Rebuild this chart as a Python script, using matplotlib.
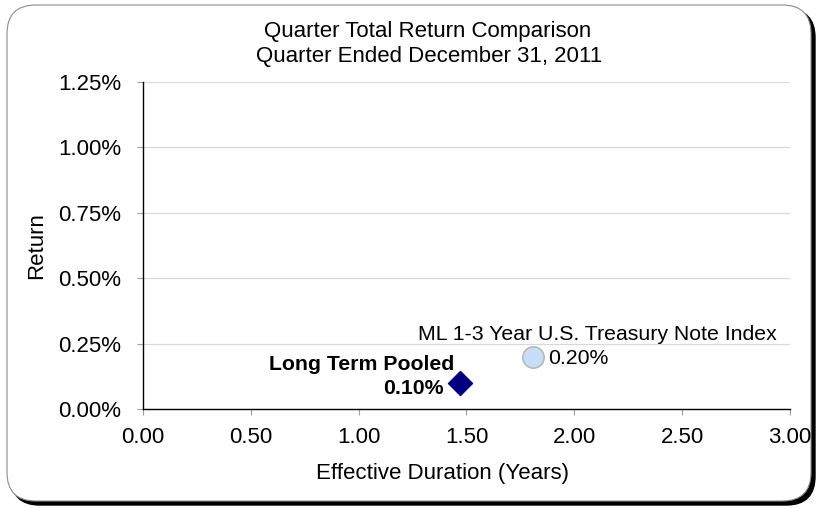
import matplotlib.pyplot as plt
from matplotlib.patches import FancyBboxPatch

plt.rcParams['font.family'] = ['Liberation Sans', 'DejaVu Sans']

# data
fund_name = "Long Term Pooled"
fund_duration = 1.47
fund_return = 0.10
index_name = "ML 1-3 Year U.S. Treasury Note Index"
index_duration = 1.81
index_return = 0.20
x_ticks = [0.0, 0.5, 1.0, 1.5, 2.0, 2.5, 3.0]
y_ticks = [0.0, 0.25, 0.5, 0.75, 1.0, 1.25]

W, H = 820, 508
PX = 0.72  # points per pixel at dpi 100
fs = 16
fs_note = 15.3

fig = plt.figure(figsize=(W / 100, H / 100), dpi=100)

# rounded frame with shadow
shadow = FancyBboxPatch((11 / W, 3 / H), 804 / W, 496 / H,
                        boxstyle="round,pad=0,rounding_size=0.035",
                        transform=fig.transFigure, facecolor='black',
                        edgecolor='black', zorder=0, mutation_aspect=W / H)
frame = FancyBboxPatch((7 / W, 7 / H), 804 / W, 496 / H,
                       boxstyle="round,pad=0,rounding_size=0.035",
                       transform=fig.transFigure, facecolor='white',
                       edgecolor='#8c8c8c', linewidth=0.8, zorder=1,
                       mutation_aspect=W / H)
fig.patches.extend([shadow, frame])

ax = fig.add_axes([143 / W, 1 - 409 / H, (790 - 143) / W, (409 - 82) / H])
ax.set_facecolor('none')
ax.set_zorder(2)

ax.set_xlim(0, 3.0)
ax.set_ylim(0, 1.25)
ax.set_xticks(x_ticks)
ax.set_xticklabels(["%.2f" % v for v in x_ticks])
ax.set_yticks(y_ticks)
ax.set_yticklabels(["%.2f%%" % v for v in y_ticks])
ax.yaxis.grid(True, color='#d9d9d9', linewidth=0.9)
ax.set_axisbelow(True)
for s in ['top', 'right']:
    ax.spines[s].set_visible(False)
for s in ['left', 'bottom']:
    ax.spines[s].set_color('black')
    ax.spines[s].set_linewidth(1.0)
ax.tick_params(axis='both', colors='#a0a0a0', labelcolor='black', labelsize=fs,
               length=6 * PX, width=0.8)
ax.tick_params(axis='x', pad=8.5)
ax.tick_params(axis='y', pad=11.5)

ax.scatter([fund_duration], [fund_return], marker='D', s=150, color='#000080', zorder=3)
ax.scatter([index_duration], [index_return], marker='o', s=235, facecolor='#c6dff9',
           edgecolor='#b8b8b8', linewidth=1.2, zorder=3)

ax.annotate(fund_name, (fund_duration, fund_return), xytext=(-5.5 * PX, 12.5 * PX),
            textcoords='offset points', ha='right', va='baseline',
            fontsize=fs_note, fontweight='bold')
ax.annotate("%.2f%%" % fund_return, (fund_duration, fund_return),
            xytext=(-16.5 * PX, -11.5 * PX), textcoords='offset points',
            ha='right', va='baseline', fontsize=fs_note, fontweight='bold')
ax.annotate(index_name, (index_duration, index_return), xytext=(-115 * PX, 17 * PX),
            textcoords='offset points', ha='left', va='baseline', fontsize=fs_note)
ax.annotate("%.2f%%" % index_return, (index_duration, index_return),
            xytext=(15 * PX, -7 * PX), textcoords='offset points',
            ha='left', va='baseline', fontsize=fs_note)

fig.text(428 / W, 1 - 37 / H, "Quarter Total Return Comparison", ha='center',
         va='baseline', fontsize=fs)
fig.text(429 / W, 1 - 62 / H, "Quarter Ended December 31, 2011", ha='center',
         va='baseline', fontsize=fs)
fig.text(443 / W, 1 - 479 / H, "Effective Duration (Years)", ha='center',
         va='baseline', fontsize=fs)
fig.text(42 / W, 1 - 246 / H, "Return", ha='center', va='baseline',
         rotation=90, rotation_mode='anchor', fontsize=fs)

fig.savefig("out.png", dpi=100)
